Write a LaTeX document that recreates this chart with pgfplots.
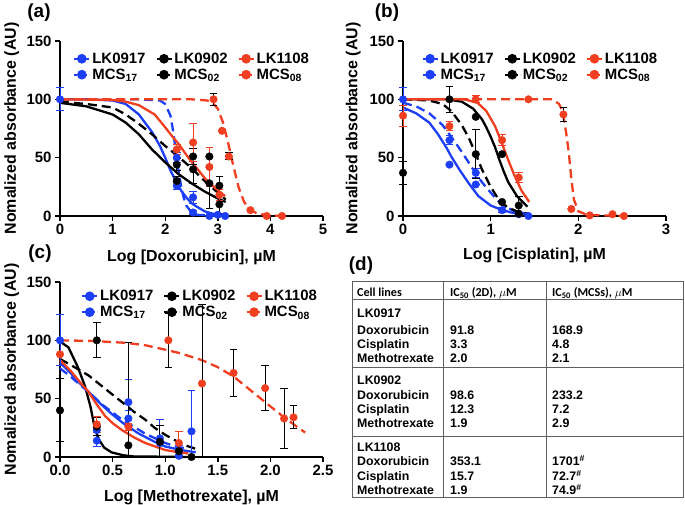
\documentclass[border=0pt]{standalone}
\usepackage{pgfplots}
\pgfplotsset{compat=1.18}
\usepackage{fontspec}
\setmainfont{Liberation Sans}
\newfontfamily\carlito{Carlito}
\definecolor{cblue}{RGB}{28,62,245}
\definecolor{cred}{RGB}{240,62,32}
\definecolor{tgray}{RGB}{95,95,95}
\newcommand{\lab}{\fontsize{16}{18}\selectfont\bfseries}
\newcommand{\tkf}{\fontsize{15}{17}\selectfont\bfseries}
\newcommand{\tbf}{\fontsize{12.4}{14}\selectfont\bfseries}
\pgfplotsset{
  panel/.style={
    scale only axis, width=263bp, height=175bp,
    axis lines=left, axis line style={-, line width=1.4bp},
    tick align=outside, major tick length=5bp,
    major tick style={black, line width=1.4bp},
    ymin=0, ymax=150, ytick={0,50,100,150},
    tick label style={font=\tkf},
    /pgf/number format/assume math mode=true,
    label style={font=\lab},
    ylabel={Nomalized absorbance (AU)},
    y label style={at={(axis description cs:-0.185,0.5)}, anchor=center},
    x label style={at={(axis description cs:0.5,-0.232)}, anchor=center},
    clip=false,
    legend columns=3,
    legend style={draw=none, fill=none, font=\tkf, anchor=north west,
      at={(axis description cs:0.05,0.945)}, inner sep=0pt,
      /tikz/every even column/.append style={column sep=8bp}},
    legend cell align=left,
    legend image code/.code={\draw[mark repeat=2,mark phase=2,#1] plot coordinates {(0bp,0bp) (7.5bp,0bp) (15bp,0bp)};},
  },
  fit/.style={line width=2.3bp, no markers, forget plot},
  fitd/.style={line width=2.3bp, no markers, dash pattern=on 9bp off 5bp, forget plot},
  pts/.style={only marks, mark=*, mark size=3.8bp, forget plot,
    error bars/y dir=both, error bars/y explicit,
    error bars/error bar style={line width=1bp, solid},
    error bars/error mark options={rotate=90, line width=1bp, mark size=3.8bp, solid}},
  ptsk/.style={only marks, mark=*, mark size=3.8bp, forget plot,
    error bars/y dir=both, error bars/y explicit,
    error bars/error bar style={black, line width=1bp, solid},
    error bars/error mark options={rotate=90, black, line width=1bp, mark size=3.8bp, solid}},
}
\newcommand{\mylegend}{%
  \addlegendimage{cblue, line width=2bp, mark=*, mark size=3.8bp, solid}
  \addlegendentry{LK0917}
  \addlegendimage{black, line width=2bp, mark=*, mark size=3.8bp, solid}
  \addlegendentry{LK0902}
  \addlegendimage{cred, line width=2bp, mark=*, mark size=3.8bp, solid}
  \addlegendentry{LK1108}
  \addlegendimage{cblue, line width=2bp, mark=*, mark size=3.8bp, dash pattern=on 3bp off 2bp, mark options={solid}}
  \addlegendentry{MCS\textsubscript{17}}
  \addlegendimage{black, line width=2bp, mark=*, mark size=3.8bp, dash pattern=on 3bp off 2bp, mark options={solid}}
  \addlegendentry{MCS\textsubscript{02}}
  \addlegendimage{cred, line width=2bp, mark=*, mark size=3.8bp, dash pattern=on 3bp off 2bp, mark options={solid}}
  \addlegendentry{MCS\textsubscript{08}}
}
\begin{document}
\begin{tikzpicture}[x=1bp,y=1bp]
\path[use as bounding box] (0,0) rectangle (685,505);

% ---------------- (a) Doxorubicin ----------------
\begin{axis}[panel, at={(60bp,289bp)}, anchor=south west,
  xmin=0, xmax=5, xtick={0,1,2,3,4,5},
  xlabel={Log [Doxorubicin], µM},
  x label style={at={(axis description cs:0.5,-0.234)}},
  y label style={at={(axis description cs:-0.183,0.5)}}]
\mylegend
\addplot[fit, cblue] coordinates {(0,100)(0.5,100)(1,99)(1.25,96)(1.5,87)(1.75,72)(1.9,60)(2.0,50)(2.1,39)(2.2,30)(2.3,22)(2.4,16)(2.5,11)(2.6,8)(2.75,4)(2.9,2)(3.15,1)};
\addplot[fitd, cblue] coordinates {(0,100)(1.5,100)(1.9,99)(2.0,96)(2.1,86)(2.15,73)(2.2,56)(2.25,40)(2.3,26)(2.35,16)(2.4,9)(2.5,3)(2.6,1)(3.15,0)};
\addplot[fit, black] coordinates {(0,97)(0.5,94)(1,87)(1.25,80)(1.5,70)(1.75,57)(2.0,46)(2.25,36)(2.5,28)(2.75,21)(3.0,15)(3.15,12)};
\addplot[fitd, black] coordinates {(0,98)(0.5,96)(1,93)(1.25,87)(1.5,79)(1.75,70)(2.0,60)(2.25,51)(2.5,41)(2.75,30)(3.0,20)(3.15,14)};
\addplot[fit, cred] coordinates {(0,100)(1,99.5)(1.25,98)(1.5,95)(1.8,87)(2.0,76)(2.12,69)(2.25,62)(2.44,50)(2.6,41)(2.76,32)(3.0,22)(3.14,17)};
\addplot[fitd, cred] coordinates {(0,100)(2.5,100)(2.8,99)(2.9,97)(3.0,92)(3.1,80)(3.2,62)(3.3,42)(3.4,24)(3.5,12)(3.6,6)(3.75,2)(4.0,0.5)(4.25,0)};
\addplot[pts, cblue] coordinates {(0,100) +- (0,10) (2.22,50) +- (0,4) (2.22,26) +- (0,3) (2.53,16) +- (0,5) (2.53,3) +- (0,2) (2.84,0) +- (0,0) (3.0,1) +- (0,0) (3.14,0) +- (0,0)};
\addplot[pts, black] coordinates {(2.22,44) +- (0,5) (2.22,30) +- (0,4) (2.53,51) +- (0,7) (2.53,40) +- (0,12) (2.84,51) +- (0,8) (2.84,28) +- (0,22) (3.03,26) +- (0,8) (3.03,10) +- (0,8)};
\addplot[pts, cred] coordinates {(2.22,57) +- (0,4) (2.53,63) +- (0,16) (2.84,42) +- (0,17) (3.03,18) +- (0,5)};
\addplot[ptsk, cred] coordinates {(2.92,100) +- (0,5) (3.08,73) +- (0,0) (3.21,51) +- (0,3) (3.62,5) +- (0,0) (3.93,0) +- (0,0) (4.22,0) +- (0,0)};
\end{axis}

% ---------------- (b) Cisplatin ----------------
\begin{axis}[panel, at={(403bp,289bp)}, anchor=south west,
  xmin=0, xmax=3, xtick={0,1,2,3},
  xlabel={Log [Cisplatin], µM},
  x label style={at={(axis description cs:0.5,-0.223)}},
  y label style={at={(axis description cs:-0.189,0.5)}},
  legend style={at={(axis description cs:0.07,0.945)}}]
\mylegend
\addplot[fit, cblue] coordinates {(0,93)(0.15,88)(0.3,80)(0.4,70)(0.5,58)(0.55,51)(0.65,39)(0.75,28)(0.86,17)(1.0,9)(1.1,6)(1.23,3)(1.42,1.5)};
\addplot[fitd, cblue] coordinates {(0,97)(0.15,94)(0.3,88)(0.45,78)(0.55,68)(0.67,55)(0.8,40)(0.9,29)(1.0,20)(1.12,10)(1.27,4)(1.42,2)};
\addplot[fit, black] coordinates {(0,100)(0.5,100)(0.67,98)(0.8,92)(0.9,83)(0.95,76)(1.0,68)(1.05,59)(1.1,48)(1.15,38)(1.2,29)(1.3,17)(1.42,8)};
\addplot[fitd, black] coordinates {(0,100)(0.3,99)(0.45,96)(0.55,90)(0.67,78)(0.75,67)(0.82,55)(0.9,40)(1.0,25)(1.1,13)(1.2,7)(1.3,4)(1.42,2)};
\addplot[fit, cred] coordinates {(0,100)(0.7,100)(0.85,97)(0.95,90)(1.05,77)(1.12,64)(1.2,48)(1.27,35)(1.35,22)(1.44,12)};
\addplot[fitd, cred] coordinates {(0,100)(1.7,100)(1.78,96)(1.82,90)(1.86,72)(1.89,55)(1.92,32)(1.95,14)(2.0,4)(2.1,1)(2.52,0)};
\addplot[pts, cblue] coordinates {(0,100) +- (0,10) (0.53,65) +- (0,4) (0.53,44) +- (0,0) (0.83,37) +- (0,4) (0.83,27) +- (0,0) (1.13,5) +- (0,2) (1.32,1.5) +- (0,0) (1.43,0) +- (0,0)};
\addplot[pts, black] coordinates {(0,37) +- (0,10) (0.53,100) +- (0,11) (0.83,85) +- (0,0) (0.83,53) +- (0,21) (1.13,53) +- (0,0) (1.13,12) +- (0,0) (1.32,9) +- (0,8) (1.32,2) +- (0,0)};
\addplot[pts, cred] coordinates {(0,86) +- (0,9) (0.53,77) +- (0,4) (0.83,100) +- (0,3) (1.13,65) +- (0,5) (1.32,33) +- (0,4)};
\addplot[ptsk, cred] coordinates {(1.43,100) +- (0,0) (1.83,87) +- (0,6) (1.92,6) +- (0,0) (2.13,0.5) +- (0,0) (2.39,1.5) +- (0,0) (2.52,0) +- (0,0)};
\end{axis}

% ---------------- (c) Methotrexate ----------------
\begin{axis}[panel, at={(60bp,48bp)}, anchor=south west,
  xmin=0, xmax=2.5, xtick={0,0.5,1,1.5,2,2.5},
  xticklabels={0.0,0.5,1.0,1.5,2.0,2.5},
  xlabel={Log [Methotrexate], µM},
  x label style={at={(axis description cs:0.5,-0.229)}},
  y label style={at={(axis description cs:-0.183,0.5)}},
  legend style={at={(axis description cs:0.08,0.965)}}]
\mylegend
\addplot[fit, black] coordinates {(0,99)(0.08,94)(0.17,77)(0.24,60)(0.29,43)(0.33,25)(0.37,15)(0.42,8)(0.49,4)(0.6,1.5)(0.7,0.5)(1.25,0)};
\addplot[fitd, black] coordinates {(0,84)(0.1,79)(0.27,70)(0.45,57)(0.59,47)(0.7,39)(0.81,32)(0.9,25)(1.0,19)(1.1,14)(1.19,10)(1.29,7)};
\addplot[fit, cblue] coordinates {(0,81)(0.1,72)(0.2,62)(0.27,56)(0.38,46)(0.49,37)(0.6,29)(0.75,20)(0.9,13)(1.0,9)(1.15,6)(1.29,4)};
\addplot[fitd, cblue] coordinates {(0,76)(0.1,69)(0.2,61)(0.27,56)(0.4,45)(0.59,32)(0.7,26)(0.81,20)(1.0,12)(1.1,9)(1.22,7)};
\addplot[fit, cred] coordinates {(0,83)(0.1,74)(0.2,63)(0.27,56)(0.35,45)(0.43,35)(0.5,29)(0.59,23)(0.7,17)(0.81,12)(1.0,6)(1.1,4.5)(1.22,3)};
\addplot[fitd, cred] coordinates {(0,100)(0.3,99.5)(0.6,98)(0.8,96)(1.0,92)(1.14,89)(1.35,83)(1.5,77)(1.65,69)(1.8,58)(1.95,47)(2.13,34)(2.22,28)(2.33,21)};
\addplot[pts, cblue] coordinates {(0,100) +- (0,22) (0.35,23) +- (0,0) (0.35,14) += (0,21) -= (0,5) (0.65,47) += (0,19) -= (0,0) (0.65,33) +- (0,7) (0.95,16) +- (0,16) (0.95,12) +- (0,0) (1.13,6) +- (0,4) (1.13,1) +- (0,0) (1.25,22) += (0,35) -= (0,22)};
\addplot[pts, black] coordinates {(0,40) +- (0,27) (0.35,100) +- (0,15) (0.35,26) +- (0,8) (0.65,10) += (0,88) -= (0,10) (0.95,13) += (0,14) -= (0,13) (1.13,5) +- (0,0) (1.25,0) +- (0,0)};
\addplot[pts, cred] coordinates {(0,88) +- (0,0) (0.35,28) +- (0,7) (0.65,26) +- (0,3) (1.13,12) +- (0,10)};
\addplot[ptsk, cred] coordinates {(1.03,100) +- (0,23) (1.35,63) += (0,68) -= (0,63) (1.65,72) +- (0,20) (1.95,59) +- (0,19) (2.13,33) +- (0,26) (2.22,34) +- (0,10)};
\end{axis}

% ---------------- panel letters ----------------
\node[font=\fontsize{19}{21}\selectfont\bfseries] at (39,492.5) {(a)};
\node[font=\fontsize{19}{21}\selectfont\bfseries] at (387,492.5) {(b)};
\node[font=\fontsize{19}{21}\selectfont\bfseries] at (40,251.5) {(c)};
\node[font=\fontsize{19}{21}\selectfont\bfseries] at (361,239) {(d)};

% ---------------- (d) table ----------------
\begin{scope}[tgray, line width=1bp]
\draw (352,223) rectangle (683,7);
\draw (443,223) -- (443,7);
\draw (546,223) -- (546,7);
\draw (352,205) -- (683,205);
\draw (352,137) -- (683,137);
\draw (352,68) -- (683,68);
\end{scope}
\begin{scope}[every node/.style={anchor=base west, inner sep=0pt, text=black}]
\node[font=\carlito\fontsize{12.2}{14}\selectfont\bfseries] at (357,208) {Cell lines};
\node[font=\carlito\fontsize{12.2}{14}\selectfont\bfseries] at (450,208) {IC\textsubscript{50} (2D), $\mu$M};
\node[font=\carlito\fontsize{12.2}{14}\selectfont\bfseries] at (552,208) {IC\textsubscript{50} (MCSs), $\mu$M};
\node[font=\tbf] at (357,187.5) {LK0917};
\node[font=\tbf] at (357,170.5) {Doxorubicin};
\node[font=\tbf] at (357,156.5) {Cisplatin};
\node[font=\tbf] at (357,142.5) {Methotrexate};
\node[font=\tbf] at (450,170.5) {91.8};
\node[font=\tbf] at (450,156.5) {3.3};
\node[font=\tbf] at (450,142.5) {2.0};
\node[font=\tbf] at (552,170.5) {168.9};
\node[font=\tbf] at (552,156.5) {4.8};
\node[font=\tbf] at (552,142.5) {2.1};
\node[font=\tbf] at (357,120.5) {LK0902};
\node[font=\tbf] at (357,105.5) {Doxorubicin};
\node[font=\tbf] at (357,91.5) {Cisplatin};
\node[font=\tbf] at (357,77.5) {Methotrexate};
\node[font=\tbf] at (450,105.5) {98.6};
\node[font=\tbf] at (450,91.5) {12.3};
\node[font=\tbf] at (450,77.5) {1.9};
\node[font=\tbf] at (552,105.5) {233.2};
\node[font=\tbf] at (552,91.5) {7.2};
\node[font=\tbf] at (552,77.5) {2.9};
\node[font=\tbf] at (357,53.5) {LK1108};
\node[font=\tbf] at (357,39.5) {Doxorubicin};
\node[font=\tbf] at (357,24.5) {Cisplatin};
\node[font=\tbf] at (357,10.5) {Methotrexate};
\node[font=\tbf] at (450,39.5) {353.1};
\node[font=\tbf] at (450,24.5) {15.7};
\node[font=\tbf] at (450,10.5) {1.9};
\node[font=\tbf] at (552,39.5) {1701\textsuperscript{\#}};
\node[font=\tbf] at (552,24.5) {72.7\textsuperscript{\#}};
\node[font=\tbf] at (552,10.5) {74.9\textsuperscript{\#}};
\end{scope}
\end{tikzpicture}
\end{document}
